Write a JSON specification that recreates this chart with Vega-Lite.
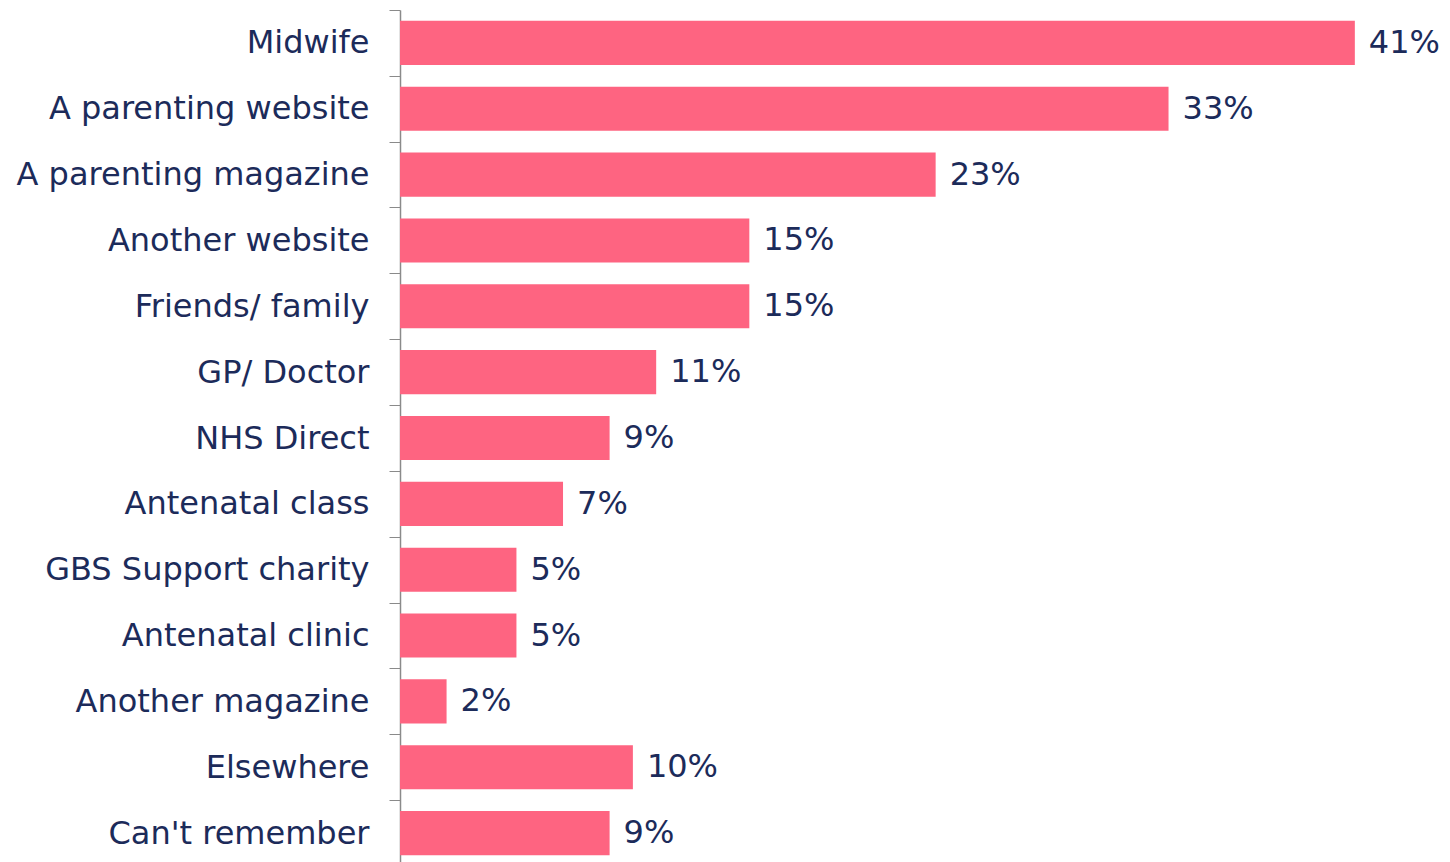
{
  "$schema": "https://vega.github.io/schema/vega-lite/v6.json",
  "autosize": "none",
  "width": 1048,
  "height": 856,
  "padding": {"left": 400, "top": 10, "right": 0, "bottom": 0},
  "background": "white",
  "config": {"view": {"stroke": null}},
  "data": {
    "values": [
      {"source": "Midwife", "pct": 0.41},
      {"source": "A parenting website", "pct": 0.33},
      {"source": "A parenting magazine", "pct": 0.23},
      {"source": "Another website", "pct": 0.15},
      {"source": "Friends/ family", "pct": 0.15},
      {"source": "GP/ Doctor", "pct": 0.11},
      {"source": "NHS Direct", "pct": 0.09},
      {"source": "Antenatal class", "pct": 0.07},
      {"source": "GBS Support charity", "pct": 0.05},
      {"source": "Antenatal clinic", "pct": 0.05},
      {"source": "Another magazine", "pct": 0.02},
      {"source": "Elsewhere", "pct": 0.10},
      {"source": "Can't remember", "pct": 0.09}
    ]
  },
  "encoding": {
    "y": {
      "field": "source",
      "type": "nominal",
      "sort": null,
      "title": null,
      "scale": {"paddingInner": 0.33, "paddingOuter": 0.165},
      "axis": {
        "tickSize": 11,
        "tickOffset": -33,
        "labelOffset": 33,
        "tickColor": "#8a8a8a",
        "domainColor": "#8a8a8a",
        "domainWidth": 1.5,
        "labelPadding": 20,
        "labelFont": "DejaVu Sans",
        "labelFontSize": 32,
        "labelColor": "#1c2b5a",
        "labelLimit": 500
      }
    },
    "x": {
      "field": "pct",
      "type": "quantitative",
      "scale": {"domain": [0, 0.45]},
      "axis": null
    }
  },
  "layer": [
    {"mark": {"type": "bar", "color": "#fe6481"}},
    {
      "mark": {"type": "text", "align": "left", "baseline": "middle", "dx": 14, "font": "DejaVu Sans", "fontSize": 32, "color": "#1c2b5a"},
      "encoding": {"text": {"field": "pct", "type": "quantitative", "format": ".0%"}}
    }
  ]
}
